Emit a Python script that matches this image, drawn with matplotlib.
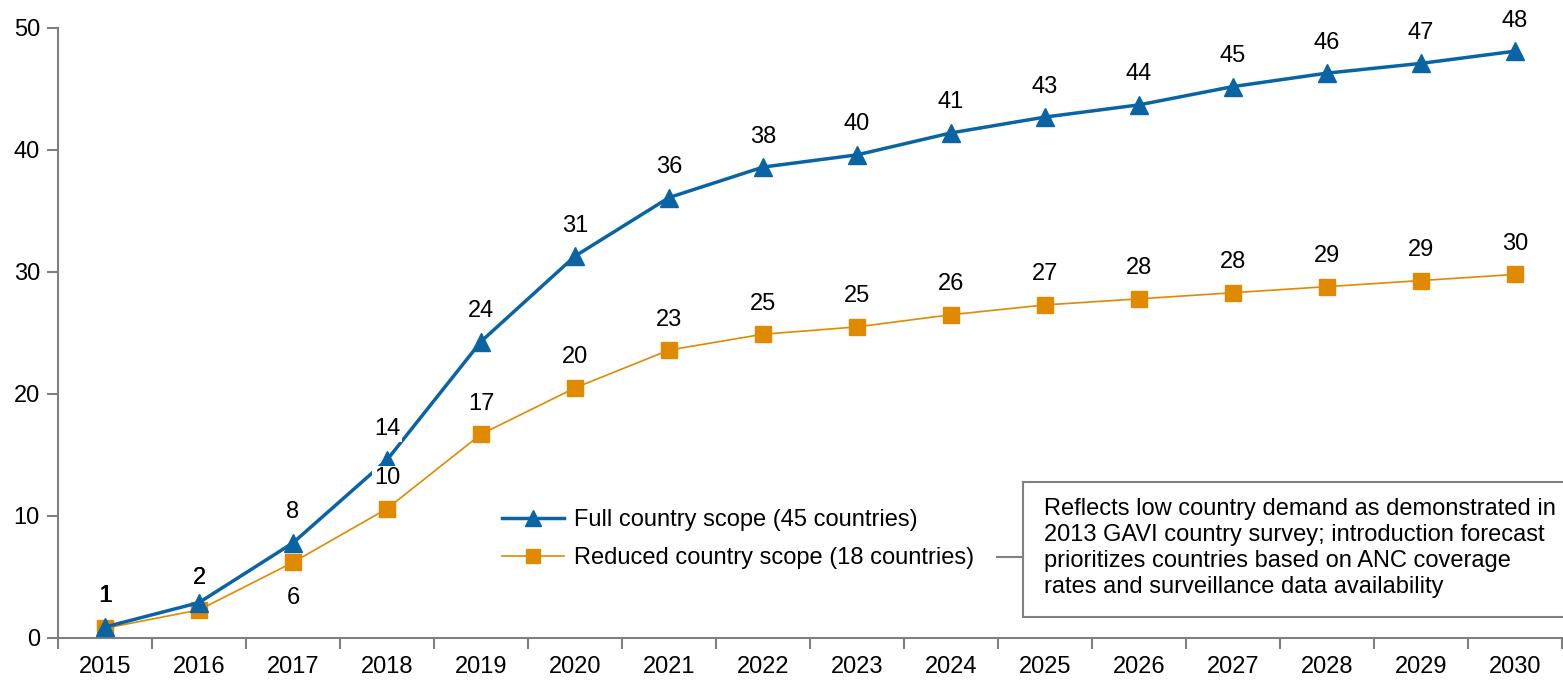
import matplotlib
matplotlib.use("Agg")
import matplotlib.pyplot as plt
from matplotlib.patches import Rectangle
from matplotlib.lines import Line2D

plt.rcParams['font.family'] = ['Liberation Sans', 'DejaVu Sans']

years = ['2015', '2016', '2017', '2018', '2019', '2020', '2021', '2022',
         '2023', '2024', '2025', '2026', '2027', '2028', '2029', '2030']
full_scope = [0.9, 2.9, 7.8, 14.6, 24.3, 31.3, 36.1, 38.6, 39.6, 41.4,
              42.7, 43.7, 45.2, 46.3, 47.1, 48.1]
reduced_scope = [0.8, 2.3, 6.2, 10.6, 16.7, 20.5, 23.6, 24.9, 25.5, 26.5,
                 27.3, 27.8, 28.3, 28.8, 29.3, 29.8]
full_labels = ['1', '2', '8', '14', '24', '31', '36', '38', '40', '41',
               '43', '44', '45', '46', '47', '48']
reduced_labels = ['1', '2', '6', '10', '17', '20', '23', '25', '25', '26',
                  '27', '28', '28', '29', '29', '30']
full_name = 'Full country scope (45 countries)'
reduced_name = 'Reduced country scope (18 countries)'
note = ('Reflects low country demand as demonstrated in\n'
        '2013 GAVI country survey; introduction forecast\n'
        'prioritizes countries based on ANC coverage\n'
        'rates and surveillance data availability')

BLUE = '#0A64A4'
ORANGE = '#DF8A00'
GRAY = '#808080'
W, H = 1563, 688
FS = 17

fig = plt.figure(figsize=(W / 100, H / 100), dpi=100)
ax = fig.add_axes([58 / W, 50 / H, (1562 - 58) / W, (638 - 28) / H])

x = list(range(len(years)))
ax.plot(x, full_scope, color=BLUE, lw=2.5, marker='^', ms=13, zorder=3,
        label=full_name)
ax.plot(x, reduced_scope, color=ORANGE, lw=1.2, marker='s', ms=11.5,
        zorder=2, label=reduced_name)

ax.set_xlim(-0.5, len(years) - 0.5)
ax.set_ylim(0, 50)
ax.set_yticks([0, 10, 20, 30, 40, 50])
ax.set_xticks(x)
ax.set_xticklabels(years)
ax.set_xticks([i - 0.5 for i in range(len(years) + 1)], minor=True)
ax.tick_params(axis='x', which='major', length=0, pad=13, labelsize=FS)
ax.tick_params(axis='x', which='minor', length=8, width=1.5, color=GRAY,
               direction='out')
ax.tick_params(axis='y', length=8, width=1.5, color=GRAY, labelsize=FS,
               pad=5)
for s in ['top', 'right']:
    ax.spines[s].set_visible(False)
for s in ['left', 'bottom']:
    ax.spines[s].set_color(GRAY)
    ax.spines[s].set_linewidth(1.5)

box = dict(facecolor='white', edgecolor='none', pad=1)
for i, (v, t) in enumerate(zip(full_scope, full_labels)):
    if i in (0, 1):
        # shares its spot with the reduced-scope label
        v = reduced_scope[i]
        ax.annotate(t, (i, v), xytext=(0, 15), textcoords='offset points',
                    ha='center', va='bottom', fontsize=FS, zorder=6)
        continue
    ax.annotate(t, (i, v), xytext=(0, 14), textcoords='offset points',
                ha='center', va='bottom', fontsize=FS, bbox=box, zorder=5)
for i, (v, t) in enumerate(zip(reduced_scope, reduced_labels)):
    if i == 2:
        ax.annotate(t, (i, v), xytext=(0, -18), textcoords='offset points',
                    ha='center', va='top', fontsize=FS, bbox=box, zorder=5)
    elif i in (0, 1):
        ax.annotate(t, (i, v), xytext=(0.4, 15),
                    textcoords='offset points', ha='center', va='bottom',
                    fontsize=FS, zorder=6)
    else:
        ax.annotate(t, (i, v), xytext=(0, 14), textcoords='offset points',
                    ha='center', va='bottom', fontsize=FS, bbox=box, zorder=5)

handles = [Line2D([], [], color=BLUE, lw=2.5, marker='^', ms=11),
           Line2D([], [], color=ORANGE, lw=1.2, marker='s', ms=10)]
fig.legend(handles, [full_name, reduced_name], loc='center left',
           bbox_to_anchor=(490 / W, 1 - 539 / H), frameon=False,
           fontsize=FS, handlelength=2.65, handletextpad=0.4,
           labelspacing=0.68, borderpad=0)

# annotation box and connector
fig.add_artist(Rectangle((1023 / W, 1 - 617 / H), (1570 - 1023) / W,
                         (617 - 482) / H, transform=fig.transFigure,
                         facecolor='white', edgecolor=GRAY, lw=1.5))
fig.add_artist(Line2D([997 / W, 1023 / W], [1 - 557 / H, 1 - 557 / H],
                      transform=fig.transFigure, color=GRAY, lw=1.5))
fig.text(1044 / W, 1 - 548 / H, note, ha='left', va='center', fontsize=FS,
         linespacing=1.25)

fig.savefig('out.png', dpi=100)
